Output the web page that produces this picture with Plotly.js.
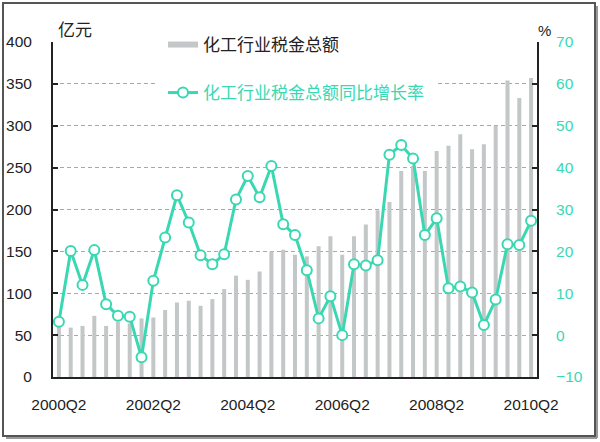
<!DOCTYPE html>
<html>
<head>
<meta charset="utf-8">
<script src="https://cdn.plot.ly/plotly-3.0.1.min.js"></script>
<style>html,body{margin:0;padding:0;background:#fff;}#chart{width:600px;height:442px;}</style>
</head>
<body>
<div id="chart"></div>
<script>
var quarters = ["2000Q2","2000Q3","2000Q4","2001Q1","2001Q2","2001Q3","2001Q4","2002Q1","2002Q2","2002Q3","2002Q4","2003Q1","2003Q2","2003Q3","2003Q4","2004Q1","2004Q2","2004Q3","2004Q4","2005Q1","2005Q2","2005Q3","2005Q4","2006Q1","2006Q2","2006Q3","2006Q4","2007Q1","2007Q2","2007Q3","2007Q4","2008Q1","2008Q2","2008Q3","2008Q4","2009Q1","2009Q2","2009Q3","2009Q4","2010Q1","2010Q2"];
var taxTotal = [60,59,61,73,61,66,64,70,71,80,89,91,85,93,105,121,116,126,150,152,146,144,156,168,146,168,182,199,209,246,252,246,270,276,290,272,278,300,354,333,357];
var growthRate = [3.2,20.1,12.0,20.3,7.4,4.6,4.4,-5.3,13.0,23.3,33.4,26.9,19.1,16.9,19.3,32.4,38.0,32.9,40.4,26.5,23.9,15.5,4.0,9.3,0.0,16.9,16.6,17.9,43.1,45.4,42.2,23.9,27.9,11.2,11.6,10.2,2.4,8.5,21.7,21.5,27.3];
var tickLabels = ["2000Q2","2002Q2","2004Q2","2006Q2","2008Q2","2010Q2"];
var barName = "化工行业税金总额";
var lineName = "化工行业税金总额同比增长率";

var teal = '#3ad8b2';
var gray = '#c3c7c7';
var fnt = 'Liberation Sans Narrow, Arial Narrow, Liberation Sans, Noto Sans CJK SC, sans-serif';
var cjk = 'Noto Sans CJK SC, sans-serif';

// minor tick positions between every second quarter
var minorTicks = [];
for (var i = 1; i < quarters.length - 1; i += 2) minorTicks.push(i + 0.5);

var traces = [
  {type:'bar', x:quarters, y:taxTotal, marker:{color:gray}, width:0.34, showlegend:false, hoverinfo:'skip'},
  {type:'scatter', mode:'lines', x:[null], y:[null], name:barName, line:{color:gray, width:6}, legend:'legend', showlegend:true},
  {type:'scatter', mode:'lines+markers', x:quarters, y:growthRate, yaxis:'y2', name:lineName,
   line:{color:teal, width:3}, marker:{size:10, color:'#ffffff', line:{color:teal, width:2}}, legend:'legend2'}
];

var px = function(v){return (v-53)/484;};
var py = function(v){return (377-v)/335;};

var layout = {
  width:600, height:442,
  margin:{l:53, r:63, t:42, b:65},
  paper_bgcolor:'#ffffff', plot_bgcolor:'#ffffff',
  font:{family:fnt, size:16, color:'#222'},
  bargap:0.66,
  xaxis:{type:'category', range:[-0.5,40.5], tickmode:'array', tickvals:tickLabels, ticktext:tickLabels,
         ticks:'', showgrid:false, showline:true, linecolor:'#222', linewidth:2, ticklabelstandoff:12,
         tickfont:{family:fnt, size:15.5, color:'#222'}, fixedrange:true},
  xaxis2:{overlaying:'x', anchor:'y', range:[-0.5,40.5], tickmode:'array', tickvals:minorTicks,
          ticks:'inside', ticklen:4, tickwidth:2, tickcolor:'#222', showticklabels:false, showgrid:false, showline:false, zeroline:false},
  yaxis:{range:[0,400], dtick:50, ticks:'inside', ticklen:5, tickwidth:2, tickcolor:'#222', showline:true, linecolor:'#222', linewidth:2,
         showgrid:true, gridcolor:'#a8a8a8', gridwidth:1, griddash:'4px,3px', zeroline:false, ticklabelstandoff:16,
         tickfont:{family:fnt, size:15.5, color:'#222'}},
  yaxis2:{overlaying:'y', side:'right', range:[-10,70], dtick:10, ticks:'inside', ticklen:5, tickwidth:2, tickcolor:'#222',
          showline:true, linecolor:'#222', linewidth:2, showgrid:false, zeroline:false, ticklabelstandoff:14,
          tickfont:{family:fnt, size:15.5, color:teal}},
  legend:{x:px(163), xanchor:'left', y:py(45), yanchor:'middle', bgcolor:'rgba(255,255,255,0)',
          font:{family:cjk, size:17, color:'#222'}, itemwidth:30},
  legend2:{x:px(163), xanchor:'left', y:py(93), yanchor:'middle', bgcolor:'rgba(255,255,255,0)',
          font:{family:cjk, size:17, color:teal}, itemwidth:30},
  shapes:[
    {type:'rect', xref:'paper', yref:'paper', x0:px(155), x1:px(438), y0:py(104), y1:py(32), fillcolor:'#ffffff', line:{width:0}, layer:'above'},
    {type:'rect', xref:'paper', yref:'paper', x0:px(3), x1:px(595), y0:py(436), y1:py(3), fillcolor:'rgba(0,0,0,0)', line:{color:'#555', width:2}, layer:'above'},
    {type:'line', xref:'paper', yref:'paper', x0:px(597), x1:px(597), y0:py(438), y1:py(6), line:{color:'#999', width:2}},
    {type:'line', xref:'paper', yref:'paper', x0:px(6), x1:px(597), y0:py(438), y1:py(438), line:{color:'#999', width:2}}
  ],
  annotations:[
    {text:'亿元', xref:'paper', yref:'paper', x:px(56), y:py(28), xanchor:'left', yanchor:'middle', showarrow:false,
     font:{family:cjk, size:17, color:'#222'}},
    {text:'%', xref:'paper', yref:'paper', x:px(544), y:py(30), xanchor:'center', yanchor:'middle', showarrow:false,
     font:{family:fnt, size:15, color:'#222'}}
  ]
};

Plotly.newPlot('chart', traces, layout, {displayModeBar:false, staticPlot:true});
</script>
</body>
</html>
